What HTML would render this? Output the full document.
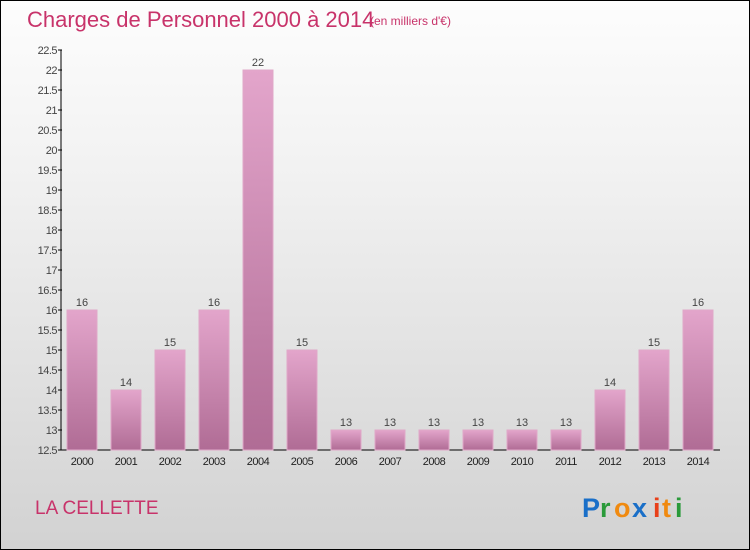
<!DOCTYPE html>
<html><head><meta charset="utf-8"><style>
body{margin:0}
#c{width:750px;height:550px;position:relative;box-sizing:border-box;border:1px solid #000;background:linear-gradient(#fdfdfd,#f2f2f2 30%,#d2d2d2);font-family:"Liberation Sans",sans-serif;overflow:hidden}
</style></head><body>
<div id="c">
<svg width="750" height="550" style="position:absolute;left:-1px;top:-1px">
<defs><linearGradient id="g" x1="0" x2="0" y1="0" y2="1"><stop offset="0" stop-color="#e3a5cb"/><stop offset="1" stop-color="#b06c95"/></linearGradient></defs>
<text x="27" y="27" font-size="22" fill="#c8336a">Charges de Personnel 2000 à 2014</text>
<text x="370" y="25" font-size="12" fill="#c8336a">(en milliers d'€)</text>
<text x="35" y="514" font-size="19" fill="#c8336a">LA CELLETTE</text>
<g font-size="27" font-weight="bold">
<text x="582" y="517" fill="#1a6fc8">P</text><text x="600" y="517" fill="#2a9a3a">r</text><text x="614" y="517" fill="#f08a10">o</text><text x="632" y="517" fill="#1a6fc8">x</text><text x="653" y="517" fill="#e8401a">i</text><text x="662" y="517" fill="#f08a10">t</text><text x="675" y="517" fill="#2a9a3a">i</text>
</g>
<g id="axes"></g><g id="bars"></g>
</svg>
</div>
<script>
const years=["2000","2001","2002","2003","2004","2005","2006","2007","2008","2009","2010","2011","2012","2013","2014"];
const values=[16,14,15,16,22,15,13,13,13,13,13,13,14,15,16];
const ticks=[12.5,13,13.5,14,14.5,15,15.5,16,16.5,17,17.5,18,18.5,19,19.5,20,20.5,21,21.5,22,22.5];
const NS="http://www.w3.org/2000/svg";
const y=v=>450-(v-12.5)*40;
const x=i=>82+i*44;
function mk(t,a,p){const e=document.createElementNS(NS,t);for(const k in a)e.setAttribute(k,a[k]);p.appendChild(e);return e;}
const ax=document.getElementById('axes'),bg=document.getElementById('bars');
const yl=mk('line',{x1:61,x2:61,y1:y(22.5),y2:450,stroke:'#000'},ax);


const xl=mk('line',{x1:61,x2:720,y1:450,y2:450,stroke:'#000'},ax);


ticks.forEach(t=>{
 const l=mk('line',{x1:58,x2:62,y1:y(t),y2:y(t),stroke:'#000'},ax);
 
 
 const tx=mk('text',{x:57,y:y(t)+4,'font-size':11,'text-anchor':'end',fill:'#444','letter-spacing':'-0.5'},ax);
 tx.textContent=String(t);
 
 
});
years.forEach((yr,i)=>{
 const v=values[i];
 const r=mk('rect',{x:x(i)-15,y:y(v),width:30,height:450-y(v),fill:'url(#g)',stroke:'#e0a8c8'},bg);
 
 
 const vl=mk('text',{x:x(i),y:y(v)-4,'font-size':11,'text-anchor':'middle',fill:'#444'},bg);
 vl.textContent=v;
 
 
 const xt=mk('text',{x:x(i),y:465,'font-size':11,'text-anchor':'middle',fill:'#222','letter-spacing':'-0.5'},bg);
 xt.textContent=yr;
 
 
});
</script>
</body></html>
